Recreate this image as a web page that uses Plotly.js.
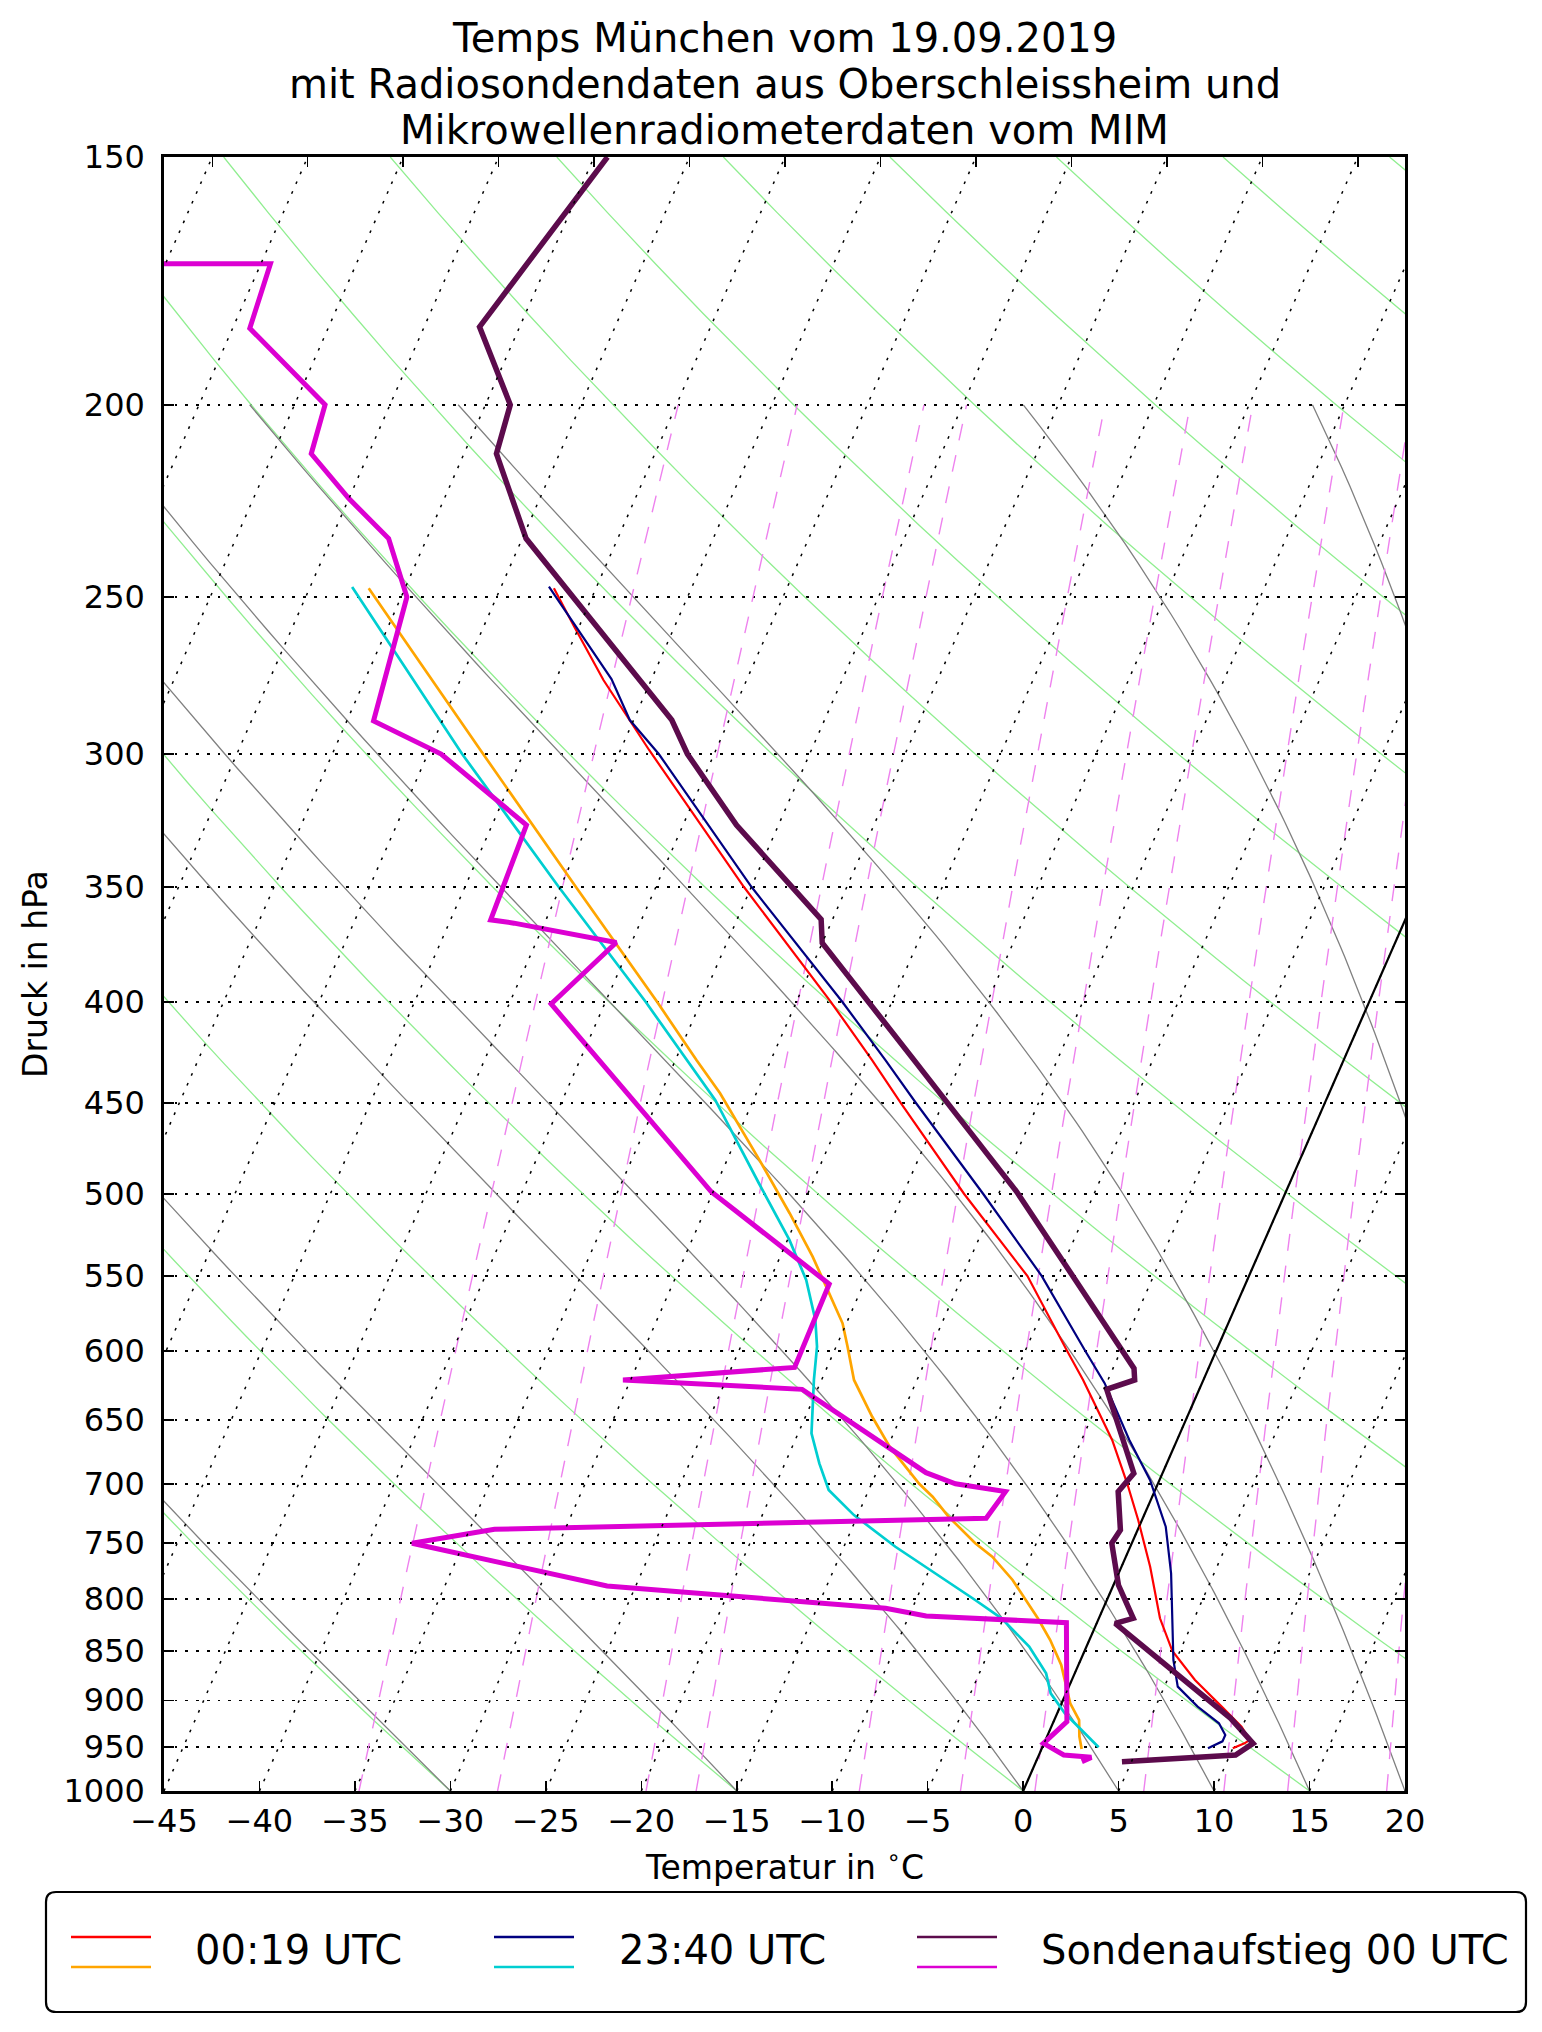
<!DOCTYPE html>
<html>
<head>
<meta charset="utf-8">
<script src="https://cdn.plot.ly/plotly-3.0.1.min.js"></script>
<style>
  html, body { margin: 0; padding: 0; background: #fff; }
  #chart { width: 1542px; height: 2032px; }
</style>
</head>
<body>
<div id="chart"></div>
<script>
// Mikrowellenradiometer 00:19 UTC (Temperatur / Taupunkt), hPa und °C
const p0019T = [951.7, 946.2, 942.5, 928.0, 906.7, 879.1, 850, 818.3, 770.7, 730, 700, 665.3, 620.5, 600, 550, 500, 450, 428, 400, 350, 298.6, 275.3, 258.8, 247.5];
const t0019 = [10.0, 10.5, 10.7, 9.96, 8.46, 6.45, 4.6, 3.2, 1.5, -0.2, -1.6, -3.4, -6.3, -7.8, -11.6, -16.8, -22.2, -24.7, -28.2, -35.4, -43.5, -47.5, -50.25, -52.2];
const p0019Td = [952.5, 938.9, 920.9, 903.2, 863.9, 839.2, 818.3, 782.7, 761.8, 750, 727.3, 710.6, 700, 670.5, 647.6, 620.5, 597, 581, 556.8, 537.7, 511.3, 480.7, 444.8, 428, 400, 350, 300, 247.5];
const td0019 = [2.1, 1.7, 1.3, 0.45, -0.9, -2.05, -3.2, -5.4, -7.0, -8.2, -10.2, -11.5, -12.5, -14.9, -16.5, -18.3, -19.4, -20.2, -21.9, -23.3, -25.5, -28.3, -31.9, -33.9, -37.3, -44.2, -52.1, -61.9];

// Mikrowellenradiometer 23:40 UTC
const p2340T = [951.7, 944, 937, 924.4, 906.7, 885.9, 858.9, 816.8, 776.7, 735.8, 696.9, 665.3, 622.8, 600, 550, 500, 450, 428, 400, 350, 300, 288.4, 275, 247];
const t2340 = [8.7, 9.3, 9.3, 8.7, 7.2, 5.7, 4.86, 3.8, 2.75, 1.4, -0.5, -2.5, -5.1, -6.85, -10.85, -15.8, -21.4, -24.0, -27.6, -35.0, -42.9, -45.2, -47.1, -52.5];
const p2340Td = [950.5, 935.2, 913.7, 892.8, 872.3, 845.7, 818.3, 801.1, 776.7, 753.1, 725.9, 705.0, 683.6, 660.2, 620.5, 597, 578.8, 552.5, 527.4, 493.8, 448.3, 428, 400, 350, 300, 247.1];
const td2340 = [2.95, 1.9, 0.4, -0.8, -1.5, -3.0, -5.1, -6.9, -9.6, -12.3, -15.2, -17.1, -18.2, -19.3, -20.4, -21.0, -21.7, -23.1, -24.9, -27.8, -32.0, -34.4, -37.9, -45.1, -53.2, -62.8];

// Radiosonde Oberschleissheim 00 UTC
const pSondeT = [966.5, 959.1, 946.2, 919.1, 823.1, 818.3, 787.3, 750, 738.6, 706.4, 691.5, 627.3, 620.5, 612.2, 552.5, 498.7, 428, 373.6, 363.5, 325.8, 300, 288.4, 233.6, 211.7, 200, 182.7, 150];
const tSonde = [4.5, 10.3, 10.95, 9.2, 0.97, 1.8, 0.26, -1.05, -0.9, -1.9, -1.5, -4.85, -3.6, -3.9, -9.0, -14.1, -22.5, -30.0, -30.6, -37.2, -41.4, -43.0, -54.8, -58.3, -58.7, -62.1, -59.3];
const pSondeTd = [966.5, 961.7, 959.1, 946.2, 922.7, 822.5, 816.1, 808.9, 788.2, 750, 738, 728.6, 706.4, 700, 691, 627.3, 620.5, 611.5, 555.1, 517.3, 498.7, 401, 373.4, 365.1, 363.7, 325.8, 300, 288.7, 250, 233.6, 223, 211.7, 200, 183, 169.8, 169.8];
const tdSonde = [2.4, 2.8, 1.3, -0.03, 0.7, -1.6, -9.1, -11.4, -26.5, -37.7, -33.7, -8.2, -7.8, -10.6, -12.4, -20.8, -30.4, -21.7, -21.8, -27.3, -30.1, -42.8, -40.8, -46.6, -47.9, -48.2, -54.3, -58.6, -59.7, -62.0, -65.0, -68.0, -68.4, -74.1, -74.5, -95];

// Hilfslinien des Diagramms
const isothermT = [-120, -115, -110, -105, -100, -95, -90, -85, -80, -75, -70, -65, -60, -55, -50, -45, -40, -35, -30, -25, -20, -15, -10, -5, 0, 5, 10, 15, 20];
const dryT0 = [-30, -15, 0, 15, 30, 45, 60, 75, 90, 105, 120, 135, 150, 165, 180];
const moistT0 = [-30, -15, 0, 5, 10, 15, 20, 30, 35];
const mixRatios = [0.2, 0.4, 0.8, 1, 2, 3, 4, 6, 8, 10, 14];   // g/kg
const xTicks = [-45, -40, -35, -30, -25, -20, -15, -10, -5, 0, 5, 10, 15, 20];
const pTicks = [150, 200, 250, 300, 350, 400, 450, 500, 550, 600, 650, 700, 750, 800, 850, 900, 950, 1000];

const P_BOT = 1000, P_TOP = 150, T_MIN = -45, T_MAX = 20;
const SKEW = (T_MAX - T_MIN) * Math.tan(30 * Math.PI / 180);
const skewX = (t, p) => t + SKEW * Math.log(P_BOT / p) / Math.log(P_BOT / P_TOP);

// Plotfläche in Pixeln
const W = 1542, H = 2032, L = 164, R = 1405, TOP = 157, BOT = 1791;
const px = X => (X - L) / (R - L);
const py = Y => (BOT - Y) / (BOT - TOP);

const FONT = 'DejaVu Sans, Liberation Sans, sans-serif';

function levels(pTop, step) {
  const out = [];
  for (let p = P_BOT; p >= pTop - 1e-9; p -= step) out.push(p);
  return out;
}

function family(list, curve) {
  const xs = [], ys = [];
  list.forEach(v => {
    const c = curve(v);
    c.p.forEach((p, i) => { xs.push(skewX(c.t[i], p)); ys.push(p); });
    xs.push(null); ys.push(null);
  });
  return { xs, ys };
}

function dryCurve(t0) {
  const p = levels(P_TOP, 10);
  return { p, t: p.map(pp => (t0 + 273.15) * Math.pow(pp / 1000, 0.28571) - 273.15) };
}

function moistCurve(t0) {
  const Rd = 287.04749, Cp = 1004.6662, Lv = 2.50084e6, eps = 0.62196;
  const f = (T, p) => {
    const es = 6.112 * Math.exp(17.67 * (T - 273.15) / (T - 29.65));
    const rs = eps * es / (p - es);
    return (Rd * T + Lv * rs) / (Cp + Lv * Lv * rs * eps / (Rd * T * T)) / p;
  };
  let T = t0 + 273.15, p = P_BOT;
  const ps = [p], ts = [t0];
  const h = -5;
  while (p > 200 + 1e-9) {
    const k1 = f(T, p), k2 = f(T + h / 2 * k1, p + h / 2), k3 = f(T + h / 2 * k2, p + h / 2), k4 = f(T + h * k3, p + h);
    T += h / 6 * (k1 + 2 * k2 + 2 * k3 + k4);
    p += h;
    ps.push(p); ts.push(T - 273.15);
  }
  return { p: ps, t: ts };
}

function mixCurve(w) {
  const p = levels(200, 10);
  return {
    p,
    t: p.map(pp => {
      const e = pp * (w / 1000) / (0.62196 + w / 1000);
      const a = Math.log(e / 6.112);
      return 243.5 * a / (17.67 - a);
    })
  };
}

const isoCurve = t => ({ p: [P_BOT, P_TOP], t: [t, t] });

const bgTrace = (fam, line, axis) => ({
  x: fam.xs, y: fam.ys, mode: 'lines', line, hoverinfo: 'skip', showlegend: false,
  connectgaps: false, xaxis: axis || 'x', yaxis: 'y'
});

const profile = (ps, ts, color, width) => ({
  x: ps.map((p, i) => skewX(ts[i], p)), y: ps, mode: 'lines',
  line: { color, width }, hoverinfo: 'skip', showlegend: false
});

const traces = [
  bgTrace(family(dryT0, dryCurve), { color: '#90ee90', width: 1.3 }),
  bgTrace(family(moistT0, moistCurve), { color: '#808080', width: 1.3 }),
  bgTrace(family(mixRatios, mixCurve), { color: '#ee82ee', width: 1.4, dash: '17px,15px' }),
  bgTrace(family(isothermT, isoCurve), { color: '#000000', width: 1.5, dash: '2.7px,8px' }, 'x2'),
  bgTrace(family([0], isoCurve), { color: '#000000', width: 2.2 }),
  profile(p0019Td, td0019, '#ffa500', 2.7),
  profile(p2340Td, td2340, '#00ced1', 2.7),
  profile(p0019T, t0019, '#ff0000', 2.2),
  profile(p2340T, t2340, '#000080', 2.2),
  profile(pSondeTd, tdSonde, '#dc00d2', 5),
  profile(pSondeT, tSonde, '#5c0b4c', 5.5)
];

const titleLines = ['Temps München vom 19.09.2019', 'mit Radiosondendaten aus Oberschleissheim und', 'Mikrowellenradiometerdaten vom MIM'];
const titleY = [38, 84, 130];

const legendItems = [
  { label: '00:19 UTC', c1: '#ff0000', c2: '#ffa500', x0: 71, x1: 151, tx: 193 },
  { label: '23:40 UTC', c1: '#000080', c2: '#00ced1', x0: 494, x1: 574, tx: 617 },
  { label: 'Sondenaufstieg 00 UTC', c1: '#5c0b4c', c2: '#dc00d2', x0: 917, x1: 997, tx: 1039 }
];

const annotations = [];
titleLines.forEach((t, i) => annotations.push({
  text: t, xref: 'paper', yref: 'paper', x: 0.5, y: py(titleY[i]), xanchor: 'center', yanchor: 'middle',
  showarrow: false, font: { family: FONT, size: 40, color: '#000' }
}));
annotations.push({
  text: 'Temperatur in <sup>∘</sup>C', xref: 'paper', yref: 'paper', x: 0.5, y: py(1865),
  xanchor: 'center', yanchor: 'middle', showarrow: false, font: { family: FONT, size: 33, color: '#000' }
});
annotations.push({
  text: 'Druck in hPa', xref: 'paper', yref: 'paper', x: px(35), y: 0.5, textangle: -90,
  xanchor: 'center', yanchor: 'middle', showarrow: false, font: { family: FONT, size: 33, color: '#000' }
});

// Legende mit zwei Linien pro Eintrag
const shapes = [];
const bx0 = px(46), bx1 = px(1526), by0 = py(2012), by1 = py(1892);
const rx = 10 / (R - L), ry = 10 / (BOT - TOP);
shapes.push({
  type: 'path', xref: 'paper', yref: 'paper',
  path: `M ${bx0 + rx},${by1} L ${bx1 - rx},${by1} Q ${bx1},${by1} ${bx1},${by1 - ry} L ${bx1},${by0 + ry} Q ${bx1},${by0} ${bx1 - rx},${by0} L ${bx0 + rx},${by0} Q ${bx0},${by0} ${bx0},${by0 + ry} L ${bx0},${by1 - ry} Q ${bx0},${by1} ${bx0 + rx},${by1} Z`,
  line: { color: '#000', width: 2.2 }, fillcolor: '#ffffff'
});
legendItems.forEach(it => {
  shapes.push({ type: 'line', xref: 'paper', yref: 'paper', x0: px(it.x0), x1: px(it.x1), y0: py(1937), y1: py(1937), line: { color: it.c1, width: 2.7 } });
  shapes.push({ type: 'line', xref: 'paper', yref: 'paper', x0: px(it.x0), x1: px(it.x1), y0: py(1967), y1: py(1967), line: { color: it.c2, width: 2.7 } });
  annotations.push({
    text: it.label, xref: 'paper', yref: 'paper', x: px(it.tx), y: py(1950), xanchor: 'left', yanchor: 'middle',
    showarrow: false, font: { family: FONT, size: 40, color: '#000' }
  });
});

const layout = {
  width: W, height: H,
  margin: { l: L, r: W - R, t: TOP, b: H - BOT, pad: 0 },
  paper_bgcolor: '#ffffff', plot_bgcolor: '#ffffff',
  showlegend: false,
  xaxis: {
    range: [T_MIN, T_MAX], tickmode: 'array', tickvals: xTicks,
    ticks: 'inside', ticklen: 10, tickwidth: 1.5, tickcolor: '#000',
    showgrid: false, zeroline: false, showline: true, linecolor: '#000', linewidth: 2.7, mirror: true,
    tickfont: { family: FONT, size: 32, color: '#000' }, ticklabelstandoff: 0
  },
  xaxis2: {
    overlaying: 'x', anchor: 'y', side: 'top', range: [T_MIN, T_MAX],
    tickmode: 'array', tickvals: xTicks.map(t => t - 5 + SKEW - 35).filter(v => v > T_MIN && v < T_MAX),
    ticks: 'inside', ticklen: 10, tickwidth: 1.5, tickcolor: '#000',
    showticklabels: false, showgrid: false, zeroline: false, showline: false
  },
  yaxis: {
    type: 'log', range: [Math.log10(P_BOT), Math.log10(P_TOP)],
    tickmode: 'array', tickvals: pTicks, ticktext: pTicks.map(String),
    ticks: 'inside', ticklen: 10, tickwidth: 1.5, tickcolor: '#000',
    showline: true, linecolor: '#000', linewidth: 2.7, mirror: 'ticks',
    showgrid: true, gridcolor: '#000', gridwidth: 1.5, griddash: '2.7px,8px', zeroline: false,
    tickfont: { family: FONT, size: 32, color: '#000' }, ticklabelstandoff: 10
  },
  annotations, shapes
};

Plotly.newPlot('chart', traces, layout, { displayModeBar: false, staticPlot: true });
</script>
</body>
</html>
